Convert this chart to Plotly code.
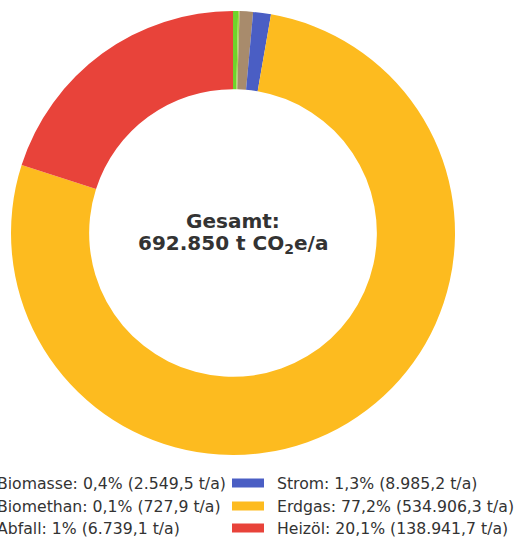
import plotly.graph_objects as go

# ---- data ----
categories = ["Biomasse", "Biomethan", "Abfall", "Strom", "Erdgas", "Heizöl"]
values = [2549.5, 727.9, 6739.1, 8985.2, 534906.3, 138941.7]
colors = ["#6ED42B", "#A6D84A", "#A88B6C", "#4A5EC4", "#FDBB1F", "#E8433A"]
total_label = "692.850"

W, H = 518, 538


def de_num(v, dec=1):
    s = f"{v:,.{dec}f}"
    return s.replace(",", "X").replace(".", ",").replace("X", ".")


total = sum(values)


def pct(v):
    p = round(v / total * 100, 1)
    s = de_num(p, 1)
    if s.endswith(",0"):
        s = s[:-2]
    return s + "%"


legend_texts = [f"{c}: {pct(v)} ({de_num(v)} t/a)" for c, v in zip(categories, values)]

# ---- geometry (pixels) ----
cx, cy, R = 233, 233, 222
hole = 0.648

fig = go.Figure()
fig.add_trace(go.Pie(
    labels=categories,
    values=values,
    sort=False,
    direction="clockwise",
    rotation=0,
    hole=hole,
    marker=dict(colors=colors, line=dict(width=0)),
    textinfo="none",
    hoverinfo="label+value+percent",
    showlegend=False,
    domain=dict(x=[(cx - R) / W, (cx + R) / W],
                y=[(H - cy - R) / H, (H - cy + R) / H]),
))

annotations = []
shapes = []

# center text
annotations.append(dict(text="<b>Gesamt:</b>", x=cx / W, y=1 - 221 / H, xref="paper", yref="paper",
                        showarrow=False, xanchor="center", yanchor="middle",
                        font=dict(family="DejaVu Sans", size=20, color="#333333")))
annotations.append(dict(text=f"<b>{total_label} t CO<sub>2</sub>e/a</b>", x=cx / W, y=1 - 244 / H,
                        xref="paper", yref="paper", showarrow=False, xanchor="center", yanchor="middle",
                        font=dict(family="DejaVu Sans", size=20, color="#333333")))

# legend (two columns, three rows)
row_y = [483, 506, 528]
col_text_x = [-5, 275]
col_marker_x = [(-48, -16), (232, 264)]
for i, txt in enumerate(legend_texts):
    col = i // 3
    row = i % 3
    y = row_y[row]
    x0, x1 = col_marker_x[col]
    shapes.append(dict(type="rect", xref="paper", yref="paper",
                       x0=x0 / W, x1=x1 / W, y0=1 - (y - 4.5) / H, y1=1 - (y + 4.5) / H,
                       fillcolor=colors[i], line=dict(width=0)))
    annotations.append(dict(text=txt, x=col_text_x[col] / W, y=1 - y / H, xref="paper", yref="paper",
                            showarrow=False, xanchor="left", yanchor="middle",
                            font=dict(family="DejaVu Sans", size=15.7, color="#333333")))

fig.update_layout(
    width=W, height=H,
    margin=dict(l=0, r=0, t=0, b=0),
    paper_bgcolor="white",
    plot_bgcolor="white",
    annotations=annotations,
    shapes=shapes,
    showlegend=False,
)

fig.write_html("out.html", config={"displayModeBar": False},
               post_script="document.body.style.margin='0';")
